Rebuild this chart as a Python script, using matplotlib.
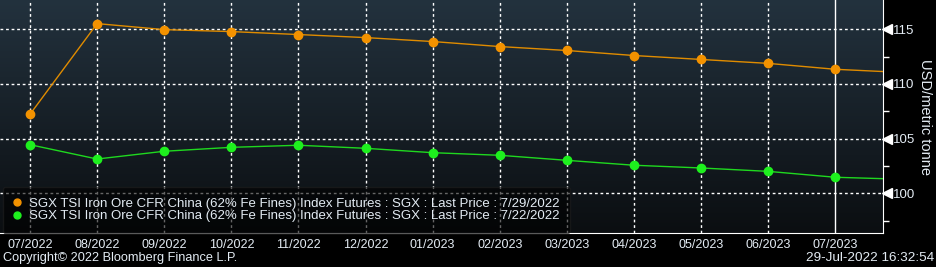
import numpy as np
import matplotlib.pyplot as plt
from matplotlib.transforms import ScaledTranslation
from matplotlib.colors import LinearSegmentedColormap

# months on the curve (last one runs off the right edge)
months = ["07/2022", "08/2022", "09/2022", "10/2022", "11/2022", "12/2022", "01/2023",
          "02/2023", "03/2023", "04/2023", "05/2023", "06/2023", "07/2023", "08/2023"]

# SGX TSI iron ore futures curve, USD/metric tonne
curve_0729 = [107.22, 115.52, 114.97, 114.79, 114.52, 114.24, 113.88,
              113.42, 113.06, 112.60, 112.24, 111.88, 111.34, 111.05]
curve_0722 = [104.44, 103.13, 103.84, 104.20, 104.39, 104.11, 103.71,
              103.47, 103.01, 102.56, 102.31, 102.00, 101.46, 101.28]

label_0729 = "SGX TSI Iron Ore CFR China (62% Fe Fines) Index Futures : SGX : Last Price : 7/29/2022"
label_0722 = "SGX TSI Iron Ore CFR China (62% Fe Fines) Index Futures : SGX : Last Price : 7/22/2022"

yticks = [100, 105, 110, 115]
yminor = [97.5, 102.5, 107.5, 112.5]

plt.rcParams['font.family'] = ['Liberation Sans', 'DejaVu Sans']
txt = "#e4ecf4"

fig = plt.figure(figsize=(9.36, 2.67), dpi=100, facecolor="black")
ax = fig.add_axes([0.0, 0.1273, 0.9434, 0.8727])

# gradient background
grad = np.linspace(0, 1, 256).reshape(-1, 1)
cmap = LinearSegmentedColormap.from_list("bg", ["#0b0e11", "#23323e"])
ax.imshow(grad, extent=[0, 1, 0, 1], transform=ax.transAxes, cmap=cmap,
          origin="lower", aspect="auto", zorder=0)

x = np.arange(len(months))
ax.plot(x, curve_0729, color="#e08c00", lw=1, marker="o", ms=6,
        mfc="#f39200", mec="#f39200", zorder=4, label=label_0729)
ax.plot(x, curve_0722, color="#1fd81f", lw=1, marker="o", ms=6,
        mfc="#1ef01e", mec="#1ef01e", zorder=4, label=label_0722)

ax.set_xlim(-0.447, 12.71)
ax.set_ylim(96.36, 117.68)

ax.set_xticks(x[:13])
ax.set_xticklabels(months[:13])
for xi in x[:12]:
    ax.axvline(xi, color="white", lw=1, ls=(0, (2, 2)), zorder=2)
ax.axvline(x[12], color="white", lw=1, zorder=2)
for yv in yticks:
    ax.axhline(yv, color="white", lw=1, ls=(0, (2, 2)), zorder=2)

ax.yaxis.tick_right()
ax.yaxis.set_label_position("right")
ax.set_yticks(yticks)
ax.set_yticks(yminor, minor=True)
ax.tick_params(axis="y", which="major", length=0, pad=7.5, labelsize=9.5, labelcolor=txt)
ax.tick_params(axis="y", which="minor", length=4, width=1, color="white")
ax.tick_params(axis="x", length=0, pad=4, labelsize=9, labelcolor=txt)

# triangle tick markers on the value axis
off = ScaledTranslation(3.5 / 100, 0, fig.dpi_scale_trans)
ax.plot([1] * len(yticks), yticks, ls="none", marker="<", ms=6.5, color="white",
        transform=ax.get_yaxis_transform() + off, clip_on=False, zorder=5)

ax.set_ylabel("USD/metric tonne", rotation=270, labelpad=12, color=txt, fontsize=10.5)

for s in ["top", "left"]:
    ax.spines[s].set_visible(False)
ax.spines["right"].set_color("white")
ax.spines["bottom"].set_color("white")

leg = ax.legend(loc="lower left", bbox_to_anchor=(0.003, 0.0), fontsize=9.5,
                frameon=True, facecolor="black", edgecolor="#202020", framealpha=0.6,
                labelcolor=txt, handlelength=0.6, handletextpad=0.57,
                borderpad=0.8, labelspacing=0.05, borderaxespad=0.0, fancybox=True)
for h in leg.legend_handles:
    h.set_linestyle("none")
    h.set_markersize(5)
leg.set_zorder(6)

fig.text(0.003, 0.035, "Copyright\u00a9 2022 Bloomberg Finance L.P.", color=txt,
         fontsize=9.2, ha="left", va="center")
fig.text(0.998, 0.035, "29-Jul-2022 16:32:54", color=txt, fontsize=9.7,
         ha="right", va="center")

fig.savefig("out.png", dpi=100, facecolor="black")
